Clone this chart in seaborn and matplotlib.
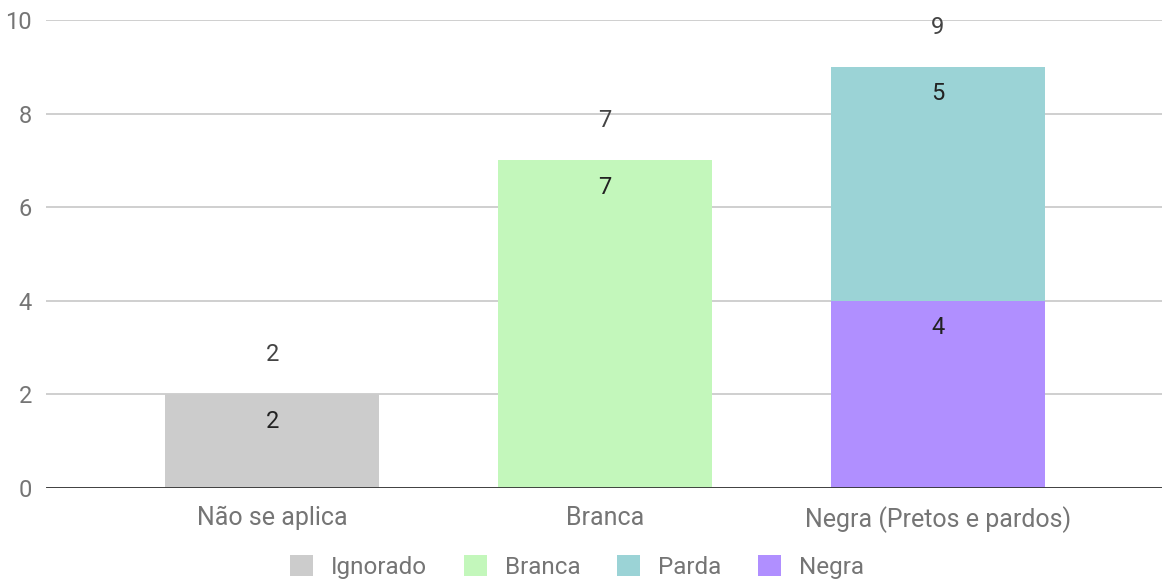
import pandas as pd
import matplotlib
matplotlib.use("Agg")
import matplotlib.pyplot as plt
import seaborn as sns
from matplotlib.patches import Patch

# ---------------------------------------------------------------------
# DADOS
# ---------------------------------------------------------------------
categorias = ["Não se aplica", "Branca", "Negra (Pretos e pardos)"]
series = ["Ignorado", "Branca", "Parda", "Negra"]
ignorado = [2, 0, 0]
branca = [0, 7, 0]
parda = [0, 0, 5]
negra = [0, 0, 4]
cores = {"Ignorado": "#cccccc", "Branca": "#c3f7bb", "Parda": "#9bd3d6", "Negra": "#b08fff"}

valores = {"Ignorado": ignorado, "Branca": branca, "Parda": parda, "Negra": negra}
# ordem de empilhamento (de baixo para cima)
ordem_pilha = ["Ignorado", "Branca", "Negra", "Parda"]

# ---------------------------------------------------------------------
# CONFIGURAÇÃO
# ---------------------------------------------------------------------
sns.set_theme(style="white")
plt.rcParams["font.family"] = ["Roboto", "DejaVu Sans"]

fig = plt.figure(figsize=(11.62, 5.8), dpi=100)
ax = fig.add_axes([46 / 1162, 92 / 580, 1 - 46 / 1162, 468 / 580])

# acumulados
rows = []
acum = [0] * len(categorias)
for s in ordem_pilha:
    base = list(acum)
    acum = [a + v for a, v in zip(acum, valores[s])]
    for i, c in enumerate(categorias):
        rows.append({"Categoria": c, "Série": s, "valor": valores[s][i],
                     "base": base[i], "topo": acum[i]})
df = pd.DataFrame(rows)

# desenhar de cima para baixo (sobreposição)
for s in reversed(ordem_pilha):
    sub = df[df["Série"] == s]
    sns.barplot(data=sub, x="Categoria", y="topo", order=categorias, color=cores[s],
                width=0.645, saturation=1, linewidth=0, ax=ax, zorder=2)

# rótulos dos segmentos
for _, r in df[df["valor"] > 0].iterrows():
    x = categorias.index(r["Categoria"])
    ax.text(x, r["topo"] - 0.58, str(r["valor"]), ha="center", va="center",
            fontsize=17, color="#222222", zorder=3)

# rótulos dos totais
for i, t in enumerate(acum):
    ax.text(i, t + 0.85, str(t), ha="center", va="center", fontsize=17,
            color="#444444", zorder=3, clip_on=False)

ax.set_xlim(-0.679, 2.673)
ax.set_ylim(0, 10)
ax.set_yticks(range(0, 11, 2))
ax.grid(axis="y", color="#cccccc", linewidth=1.3, zorder=0)
ax.set_axisbelow(True)
for sp in ax.spines.values():
    sp.set_visible(False)
ax.axhline(0, color="#333333", linewidth=2, zorder=4)
ax.set_xlabel("")
ax.set_ylabel("")
ax.tick_params(axis="both", length=0, labelsize=17, labelcolor="#757575")
ax.tick_params(axis="x", pad=13, labelsize=18)
ax.tick_params(axis="y", pad=10)

handles = [Patch(facecolor=cores[s], edgecolor="none", label=s) for s in series]
fig.legend(handles=handles, loc="center", bbox_to_anchor=(577 / 1162, 1 - 567 / 580),
           ncol=4, frameon=False, fontsize=17.5, labelcolor="#757575",
           handlelength=0.95, handleheight=0.95, handletextpad=0.75, columnspacing=1.5)

fig.savefig("out.png", dpi=100)
